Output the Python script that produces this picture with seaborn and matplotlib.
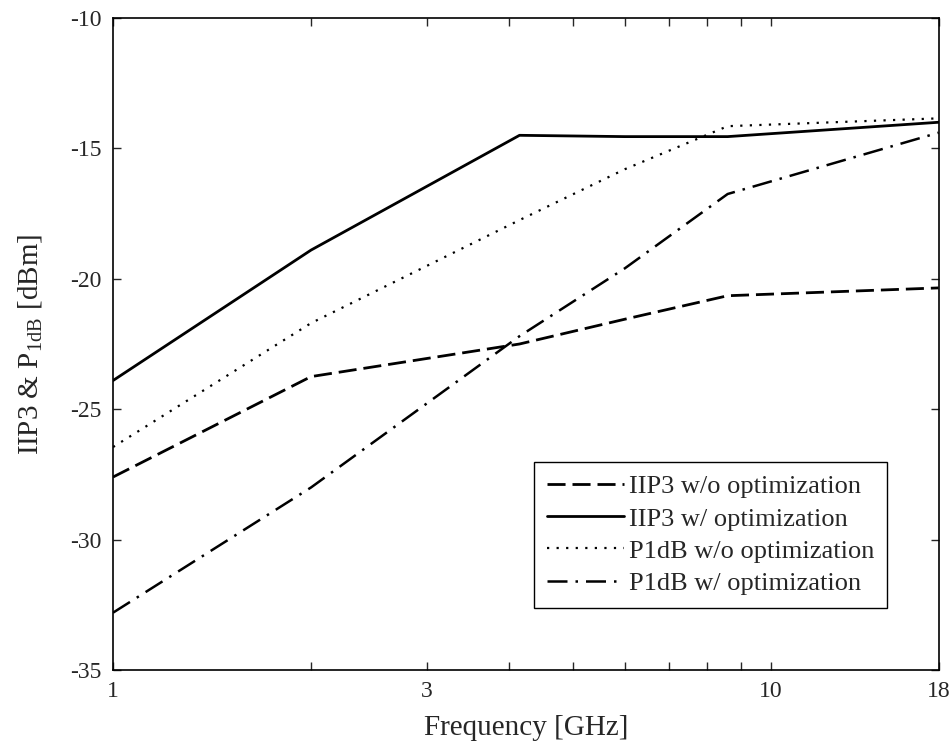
import matplotlib
matplotlib.use("Agg")
import matplotlib.pyplot as plt
import seaborn as sns
import pandas as pd
import numpy as np

freq = [1, 2, 4.15, 6, 8.6, 18]
iip3_wo = [-27.6, -23.75, -22.5, -21.55, -20.65, -20.35]
iip3_w = [-23.9, -18.9, -14.5, -14.55, -14.55, -14.0]
p1db_wo = [-26.45, -21.7, -17.75, -15.8, -14.15, -13.85]
p1db_w = [-32.8, -28.0, -22.2, -19.6, -16.75, -14.4]

labels = ["IIP3 w/o optimization", "IIP3 w/ optimization",
          "P1dB w/o optimization", "P1dB w/ optimization"]
series = [iip3_wo, iip3_w, p1db_wo, p1db_w]

xticks_major = [1, 3, 10, 18]
xticks_minor = [2, 4, 5, 6, 7, 8, 9]
yticks = [-35, -30, -25, -20, -15, -10]

sns.set_style("white")
plt.rcParams["font.family"] = ["Liberation Serif", "DejaVu Serif"]
plt.rcParams["mathtext.fontset"] = "custom"
plt.rcParams["mathtext.rm"] = "Liberation Serif"

fig = plt.figure(figsize=(9.5, 7.47), dpi=100)
ax = fig.add_axes([0.119, 0.103, 0.869, 0.873])

dash_styles = [(0, (6.5, 2.5)), "-", (0, (1, 3.3)), (0, (8, 3.2, 1, 3.2))]
widths = [2.0, 2.0, 1.6, 1.8]

for lab, vals, ls, lw in zip(labels, series, dash_styles, widths):
    df = pd.DataFrame({"f": freq, "v": vals})
    sns.lineplot(data=df, x="f", y="v", ax=ax, color="black", linewidth=lw,
                 linestyle=ls, label=lab, estimator=None, sort=False)

ax.set_xscale("log")
ax.set_xlim(1, 18)
ax.set_ylim(-35, -10)
ax.set_xticks(xticks_major)
ax.set_xticklabels([str(t) for t in xticks_major])
ax.set_xticks(xticks_minor, minor=True)
ax.set_xticklabels([], minor=True)
ax.set_yticks(yticks)
ax.set_yticklabels([str(t) for t in yticks])

ax.tick_params(axis="both", which="both", direction="in", top=True, right=True,
               bottom=True, left=True, length=6, width=1, labelsize=17, pad=8)
for s in ax.spines.values():
    s.set_color("black")
    s.set_linewidth(1.2)

ax.set_xlabel("Frequency [GHz]", fontsize=21, labelpad=9)
ax.set_ylabel(r"IIP3 & P$_{\mathrm{1dB}}$ [dBm]", fontsize=21, labelpad=18)

leg = ax.legend(loc="lower right", bbox_to_anchor=(0.938, 0.095), fontsize=19,
                frameon=True, fancybox=False, framealpha=1, edgecolor="black",
                handlelength=2.9, handletextpad=0.2, borderpad=0.5,
                labelspacing=0.33, borderaxespad=0)
leg.get_frame().set_linewidth(1.0)

fig.savefig("out.png", dpi=100)
